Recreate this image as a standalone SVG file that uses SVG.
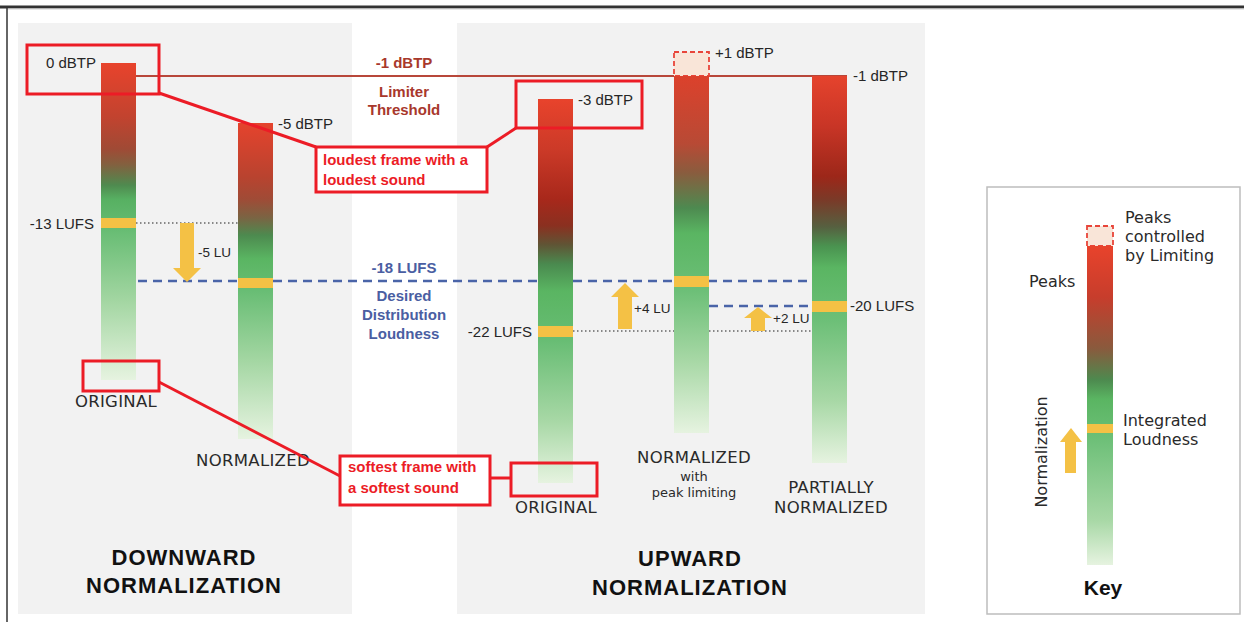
<svg xmlns="http://www.w3.org/2000/svg" width="1244" height="622" viewBox="0 0 1244 622">
  <defs>
    <style>
      .panel { fill: #f2f2f2; }
      .band { fill: #f4c145; }
      .arrow { fill: #f4c145; }
      .lbl { font-family: "Liberation Sans", Arial, sans-serif; font-size: 15px; fill: #262626; }
      .lu { font-family: "Liberation Sans", Arial, sans-serif; font-size: 13.5px; fill: #262626; }
      .cat { font-family: "DejaVu Sans", "Liberation Sans", sans-serif; font-size: 16.5px; fill: #2a2a2a; text-anchor: middle; letter-spacing: 0.3px; }
      .small { font-family: "DejaVu Sans", "Liberation Sans", sans-serif; font-size: 13px; fill: #2a2a2a; text-anchor: middle; }
      .title { font-family: "Liberation Sans", Arial, sans-serif; font-size: 22px; font-weight: bold; fill: #111; text-anchor: middle; letter-spacing: 1px; }
      .lim { font-family: "Liberation Sans", Arial, sans-serif; font-size: 15px; font-weight: bold; fill: #a8382c; text-anchor: middle; }
      .tgt { font-family: "Liberation Sans", Arial, sans-serif; font-size: 15px; font-weight: bold; fill: #4a5ea2; text-anchor: middle; }
      .note { font-family: "Liberation Sans", Arial, sans-serif; font-size: 15px; font-weight: bold; fill: #ec1c26; }
      .key { font-family: "DejaVu Sans", "Liberation Sans", sans-serif; font-size: 16px; fill: #2a2a2a; }
      .callout { fill: none; stroke: #ec1c26; stroke-width: 3; }
      .callout-filled { fill: #ffffff; stroke: #ec1c26; stroke-width: 3; }
      .link { stroke: #ec1c26; stroke-width: 3; fill: none; }
      .peak { fill: #f9e5d8; stroke: #e8453a; stroke-width: 1.8; stroke-dasharray: 5 3; }
      .dotted { stroke: #666; stroke-width: 1.5; stroke-dasharray: 1.5 2.5; fill: none; }
      .target { stroke: #4a64a8; stroke-width: 2.5; stroke-dasharray: 9 6; fill: none; }
      .limiter { stroke: #b8473a; stroke-width: 2; fill: none; }
    </style>
    <linearGradient id="g-orig-down" x1="0" y1="0" x2="0" y2="1">
      <stop offset="0" stop-color="#e8432c"/>
      <stop offset="0.17" stop-color="#c2432f"/>
      <stop offset="0.27" stop-color="#a04a35"/>
      <stop offset="0.32" stop-color="#83603f"/>
      <stop offset="0.385" stop-color="#4f8a4f"/>
      <stop offset="0.43" stop-color="#57b062"/>
      <stop offset="0.53" stop-color="#68bd74"/>
      <stop offset="0.75" stop-color="#a3d6a2"/>
      <stop offset="1" stop-color="#e6f3e0"/>
    </linearGradient>
    <linearGradient id="g-norm-down" x1="0" y1="0" x2="0" y2="1">
      <stop offset="0" stop-color="#e5432d"/>
      <stop offset="0.17" stop-color="#b9432f"/>
      <stop offset="0.24" stop-color="#a04b36"/>
      <stop offset="0.30" stop-color="#7a6443"/>
      <stop offset="0.355" stop-color="#4d8a4f"/>
      <stop offset="0.43" stop-color="#5ab562"/>
      <stop offset="0.53" stop-color="#68bd74"/>
      <stop offset="0.75" stop-color="#a3d6a2"/>
      <stop offset="1" stop-color="#e6f3e0"/>
    </linearGradient>
    <linearGradient id="g-orig-up" x1="0" y1="0" x2="0" y2="1">
      <stop offset="0" stop-color="#e8432c"/>
      <stop offset="0.13" stop-color="#cc3a28"/>
      <stop offset="0.26" stop-color="#a8281b"/>
      <stop offset="0.33" stop-color="#8a3020"/>
      <stop offset="0.38" stop-color="#5f5535"/>
      <stop offset="0.43" stop-color="#4a8a4f"/>
      <stop offset="0.50" stop-color="#5ab562"/>
      <stop offset="0.63" stop-color="#68bd74"/>
      <stop offset="0.84" stop-color="#a8d8a6"/>
      <stop offset="1" stop-color="#e6f3e0"/>
    </linearGradient>
    <linearGradient id="g-limited" x1="0" y1="0" x2="0" y2="1">
      <stop offset="0" stop-color="#dc412c"/>
      <stop offset="0.19" stop-color="#b84a35"/>
      <stop offset="0.27" stop-color="#8a5c3e"/>
      <stop offset="0.37" stop-color="#4d8a50"/>
      <stop offset="0.44" stop-color="#5ab562"/>
      <stop offset="0.60" stop-color="#6cbf77"/>
      <stop offset="0.80" stop-color="#a8d8a6"/>
      <stop offset="1" stop-color="#e6f3e0"/>
    </linearGradient>
    <linearGradient id="g-partial" x1="0" y1="0" x2="0" y2="1">
      <stop offset="0" stop-color="#e5432d"/>
      <stop offset="0.13" stop-color="#c83526"/>
      <stop offset="0.26" stop-color="#9c2719"/>
      <stop offset="0.32" stop-color="#7a3a28"/>
      <stop offset="0.39" stop-color="#566040"/>
      <stop offset="0.44" stop-color="#4a9350"/>
      <stop offset="0.495" stop-color="#5ab562"/>
      <stop offset="0.63" stop-color="#6cbf77"/>
      <stop offset="0.84" stop-color="#a8d8a6"/>
      <stop offset="1" stop-color="#e6f3e0"/>
    </linearGradient>
    <linearGradient id="g-key" x1="0" y1="0" x2="0" y2="1">
      <stop offset="0" stop-color="#e8432c"/>
      <stop offset="0.16" stop-color="#c73d2c"/>
      <stop offset="0.32" stop-color="#8a5a3d"/>
      <stop offset="0.42" stop-color="#4d8a4f"/>
      <stop offset="0.48" stop-color="#5ab562"/>
      <stop offset="0.60" stop-color="#6cbf77"/>
      <stop offset="0.86" stop-color="#a8d8a6"/>
      <stop offset="1" stop-color="#e6f3e0"/>
    </linearGradient>
  </defs>

  <!-- page -->
  <rect x="0" y="0" width="1244" height="622" fill="#ffffff"/>
  <line x1="0" y1="7" x2="1244" y2="7" stroke="#333" stroke-width="3"/>
  <line x1="7" y1="9" x2="1244" y2="9" stroke="#cfcfcf" stroke-width="1"/>
  <line x1="7" y1="7" x2="7" y2="622" stroke="#333" stroke-width="1.5"/>

  <!-- panels -->
  <rect id="panel-downward" class="panel" x="18" y="23" width="334" height="591"/>
  <rect id="panel-upward" class="panel" x="457" y="23" width="468" height="591"/>

  <!-- reference levels -->
  <g id="levels">
    <line class="limiter" x1="136" y1="76" x2="847" y2="76"/>
    <line class="dotted" x1="136" y1="223" x2="238" y2="223"/>
    <line class="dotted" x1="573" y1="331" x2="812" y2="331"/>
    <line class="target" x1="138" y1="281" x2="808" y2="281"/>
    <line class="target" x1="709" y1="306" x2="812" y2="306"/>
  </g>

  <!-- downward: original -->
  <g id="bar-down-original">
    <rect x="101" y="63" width="35" height="317" fill="url(#g-orig-down)"/>
    <rect class="band" x="101" y="218" width="35" height="10"/>
    <text class="lbl" x="96" y="68" text-anchor="end">0 dBTP</text>
    <text class="lbl" x="94" y="229" text-anchor="end">-13 LUFS</text>
    <text class="cat" x="116" y="407">ORIGINAL</text>
  </g>

  <!-- downward: normalized -->
  <g id="bar-down-normalized">
    <rect x="238" y="123" width="35" height="316" fill="url(#g-norm-down)"/>
    <rect class="band" x="238" y="278" width="35" height="10"/>
    <text class="lbl" x="278" y="129">-5 dBTP</text>
    <text class="cat" x="253" y="466">NORMALIZED</text>
  </g>

  <g id="shift-down">
    <polygon class="arrow" points="180,223 194,223 194,268 201,268 187,282 173,268 180,268"/>
    <text class="lu" x="198" y="257">-5 LU</text>
  </g>

  <!-- level captions -->
  <g id="limiter-caption">
    <text class="lim" x="404" y="68">-1 dBTP</text>
    <text class="lim" x="404" y="97">Limiter</text>
    <text class="lim" x="404" y="115">Threshold</text>
  </g>
  <g id="target-caption">
    <text class="tgt" x="404" y="273">-18 LUFS</text>
    <text class="tgt" x="404" y="301">Desired</text>
    <text class="tgt" x="404" y="320">Distribution</text>
    <text class="tgt" x="404" y="339">Loudness</text>
  </g>

  <!-- upward: original -->
  <g id="bar-up-original">
    <rect x="538" y="99" width="35" height="384" fill="url(#g-orig-up)"/>
    <rect class="band" x="538" y="326" width="35" height="11"/>
    <text class="lbl" x="578" y="105">-3 dBTP</text>
    <text class="lbl" x="532" y="337" text-anchor="end">-22 LUFS</text>
    <text class="cat" x="556" y="513">ORIGINAL</text>
  </g>

  <!-- upward: normalized with peak limiting -->
  <g id="bar-up-limited">
    <rect class="peak" x="674" y="52" width="35" height="24"/>
    <rect x="674" y="76" width="35" height="357" fill="url(#g-limited)"/>
    <rect class="band" x="674" y="276" width="35" height="11"/>
    <text class="lbl" x="715" y="58">+1 dBTP</text>
    <text class="cat" x="694" y="463">NORMALIZED</text>
    <text class="small" x="694" y="481">with</text>
    <text class="small" x="694" y="497">peak limiting</text>
  </g>

  <g id="shift-up-4">
    <polygon class="arrow" points="625,283 639,297 632,297 632,329 618,329 618,297 611,297"/>
    <text class="lu" x="634" y="313">+4 LU</text>
  </g>

  <!-- upward: partially normalized -->
  <g id="bar-up-partial">
    <rect x="812" y="76" width="35" height="387" fill="url(#g-partial)"/>
    <rect class="band" x="812" y="301" width="35" height="11"/>
    <text class="lbl" x="853" y="81">-1 dBTP</text>
    <text class="lbl" x="850" y="311">-20 LUFS</text>
    <text class="cat" x="831" y="493">PARTIALLY</text>
    <text class="cat" x="831" y="513">NORMALIZED</text>
  </g>

  <g id="shift-up-2">
    <polygon class="arrow" points="758,307 772,318 765,318 765,331 751,331 751,318 744,318"/>
    <text class="lu" x="773" y="323">+2 LU</text>
  </g>

  <!-- section titles -->
  <g id="title-downward">
    <text class="title" x="184" y="565">DOWNWARD</text>
    <text class="title" x="184" y="593">NORMALIZATION</text>
  </g>
  <g id="title-upward">
    <text class="title" x="690" y="566">UPWARD</text>
    <text class="title" x="690" y="595">NORMALIZATION</text>
  </g>

  <!-- key -->
  <g id="key">
    <rect x="987" y="187" width="253" height="427" fill="#ffffff" stroke="#bdbdbd" stroke-width="1.5"/>
    <rect class="peak" x="1087" y="226" width="26" height="20"/>
    <rect x="1087" y="246" width="26" height="319" fill="url(#g-key)"/>
    <rect class="band" x="1087" y="424" width="26" height="9"/>
    <polygon class="arrow" points="1071,428 1082,442 1076,442 1076,473 1065,473 1065,442 1060,442"/>
    <text class="key" x="1125" y="223">Peaks</text>
    <text class="key" x="1125" y="242">controlled</text>
    <text class="key" x="1125" y="261">by Limiting</text>
    <text class="key" x="1029" y="287">Peaks</text>
    <text class="key" x="1123" y="426">Integrated</text>
    <text class="key" x="1123" y="445">Loudness</text>
    <text class="key" transform="translate(1047,452) rotate(-90)" text-anchor="middle">Normalization</text>
    <text class="title" x="1103" y="595" style="font-size:21px;letter-spacing:0">Key</text>
  </g>

  <!-- callouts -->
  <g id="callout-loud-down"><rect class="callout" x="27" y="45" width="132" height="49"/></g>
  <g id="callout-loud-up"><rect class="callout" x="516" y="81" width="126" height="47"/></g>
  <g id="callout-soft-down"><rect class="callout" x="83" y="361" width="76" height="30"/></g>
  <g id="callout-soft-up"><rect class="callout" x="511" y="463" width="86" height="33"/></g>

  <g id="connectors">
    <line class="link" x1="159" y1="93" x2="316" y2="147"/>
    <line class="link" x1="487" y1="147" x2="516" y2="128"/>
    <line class="link" x1="159" y1="382" x2="340" y2="476"/>
    <line class="link" x1="490" y1="478" x2="511" y2="478"/>
  </g>

  <g id="note-loudest">
    <rect class="callout-filled" x="316" y="147" width="171" height="45"/>
    <text class="note" x="323" y="165">loudest frame with a</text>
    <text class="note" x="323" y="185">loudest sound</text>
  </g>
  <g id="note-softest">
    <rect class="callout-filled" x="340" y="456" width="150" height="49"/>
    <text class="note" x="348" y="472">softest frame with</text>
    <text class="note" x="348" y="493">a softest sound</text>
  </g>
</svg>
